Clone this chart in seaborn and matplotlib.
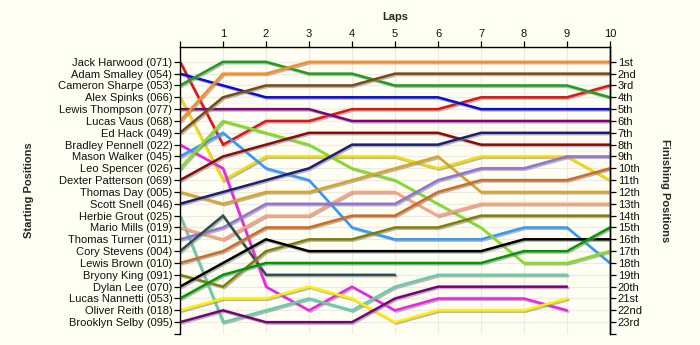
import matplotlib
matplotlib.use("Agg")
import matplotlib.pyplot as plt
import matplotlib.patheffects as pe
import seaborn as sns
import pandas as pd

drivers = [
    "Jack Harwood (071)", "Adam Smalley (054)", "Cameron Sharpe (053)", "Alex Spinks (066)",
    "Lewis Thompson (077)", "Lucas Vaus (068)", "Ed Hack (049)", "Bradley Pennell (022)",
    "Mason Walker (045)", "Leo Spencer (026)", "Dexter Patterson (069)", "Thomas Day (005)",
    "Scott Snell (046)", "Herbie Grout (025)", "Mario Mills (019)", "Thomas Turner (011)",
    "Cory Stevens (004)", "Lewis Brown (010)", "Bryony King (091)", "Dylan Lee (070)",
    "Lucas Nannetti (053)", "Oliver Reith (018)", "Brooklyn Selby (095)",
]

colors = [
    "#E81010", "#0A0ADC", "#1E9E1E", "#F5DC00", "#800080", "#FF8C1A", "#7B4A12", "#F020E8",
    "#3399FF", "#80E020", "#8B0A0A", "#DAA520", "#1E1E78", "#66CDAA", "#FFA07A", "#9370DB",
    "#2F4F4F", "#D2691E", "#808000", "#000000", "#009900", "#FFEE00", "#7A007A",
]

# positions by lap (lap 0 = start); shorter lists = retired
positions = [
    [1, 8, 6, 6, 5, 5, 5, 4, 4, 4, 3],
    [2, 3, 4, 4, 4, 4, 4, 5, 5, 5, 5],
    [3, 1, 1, 2, 2, 3, 3, 3, 3, 3, 4],
    [4, 11, 9, 9, 9, 9, 10, 9, 9, 9, 11],
    [5, 5, 5, 5, 6, 6, 6, 6, 6, 6, 6],
    [6, 2, 2, 1, 1, 1, 1, 1, 1, 1, 1],
    [7, 4, 3, 3, 3, 2, 2, 2, 2, 2, 2],
    [8, 10, 20, 22, 20, 22, 21, 21, 21, 22],
    [9, 7, 10, 11, 15, 16, 16, 16, 15, 15, 18],
    [10, 6, 7, 8, 10, 11, 13, 15, 18, 18, 17],
    [11, 9, 8, 7, 7, 7, 7, 8, 8, 8, 8],
    [12, 13, 12, 12, 11, 10, 9, 12, 12, 12, 12],
    [13, 12, 11, 10, 8, 8, 8, 7, 7, 7, 7],
    [14, 23, 22, 21, 22, 20, 19, 19, 19, 19],
    [15, 16, 14, 14, 12, 12, 14, 13, 13, 13, 13],
    [16, 15, 13, 13, 13, 13, 11, 10, 10, 9, 9],
    [17, 14, 19, 19, 19, 19],
    [18, 17, 15, 15, 14, 14, 12, 11, 11, 11, 10],
    [19, 20, 17, 16, 16, 15, 15, 14, 14, 14, 14],
    [20, 18, 16, 17, 17, 17, 17, 17, 16, 16, 16],
    [21, 19, 18, 18, 18, 18, 18, 18, 17, 17, 15],
    [22, 21, 21, 20, 21, 23, 22, 22, 22, 21],
    [23, 22, 23, 23, 23, 21, 20, 20, 20, 20],
]

lap_labels = ["", "1", "2", "3", "4", "5", "6", "7", "8", "9", "10"]
finish_labels = ["1st", "2nd", "3rd", "4th", "5th", "6th", "7th", "8th", "9th", "10th",
                 "11th", "12th", "13th", "14th", "15th", "16th", "17th", "18th", "19th",
                 "20th", "21st", "22nd", "23rd"]

rows = []
for d, ps in zip(drivers, positions):
    for lap, p in enumerate(ps):
        rows.append({"driver": d, "lap": lap, "pos": p})
df = pd.DataFrame(rows)

bg = "#FFFEF2"
sns.set_theme(style="white")
plt.rcParams["font.family"] = ["Liberation Sans", "DejaVu Sans"]
fs = 8

fig = plt.figure(figsize=(7, 3.45), dpi=100, facecolor=bg)
ax = fig.add_axes([180 / 700, 1 - 334 / 345, 430 / 700, (334 - 47) / 345])
ax.set_facecolor(bg)

sns.lineplot(data=df, x="lap", y="pos", hue="driver", hue_order=drivers,
             palette=colors, legend=False, estimator=None, sort=False,
             linewidth=1.8, ax=ax)
for ln in ax.lines:
    ln.set_path_effects([pe.SimpleLineShadow(offset=(1, -1), shadow_color="#888888", alpha=0.6),
                         pe.Normal()])
    ln.set_solid_joinstyle("miter")

ax.set_xlim(0, 10)
ax.set_ylim(24, -0.25)

ax.set_xticks(range(11))
ax.set_xticklabels(lap_labels, fontsize=fs)
ax.xaxis.tick_top()
ax.xaxis.set_label_position("top")
ax.set_xlabel("Laps", fontsize=fs, fontweight="bold", labelpad=7)

ax.set_yticks(range(1, 25))
ax.set_yticklabels(drivers + [""], fontsize=fs)
ax.set_ylabel("Starting Positions", fontsize=fs, fontweight="bold", labelpad=17)

ax.grid(True, color="#EAEAEA", linewidth=0.8)
ax.set_axisbelow(True)
ax.tick_params(axis="both", which="both", direction="out", length=4, width=0.9,
               color="black", pad=1.5, labelcolor="#111111")
ax.tick_params(axis="x", top=True, bottom=False)
ax.tick_params(axis="y", left=True)

ax.spines["bottom"].set_visible(False)
for side in ["top", "left", "right"]:
    ax.spines[side].set_visible(True)
    ax.spines[side].set_color("black")
    ax.spines[side].set_linewidth(1.0)

ax2 = ax.twinx()
ax2.set_ylim(ax.get_ylim())
ax2.set_yticks(range(1, 25))
ax2.set_yticklabels(finish_labels + [""], fontsize=fs)
ax2.tick_params(axis="y", direction="out", length=4, width=0.9, color="black",
                pad=1.5, labelcolor="#111111", right=True)
ax2.set_ylabel("Finishing Positions", fontsize=fs, fontweight="bold",
               rotation=-90, labelpad=20)
for side in ["top", "left", "bottom"]:
    ax2.spines[side].set_visible(False)
ax2.spines["right"].set_color("black")
ax2.spines["right"].set_linewidth(1.0)
ax2.grid(False)

fig.savefig("out.png", dpi=100, facecolor=bg)
